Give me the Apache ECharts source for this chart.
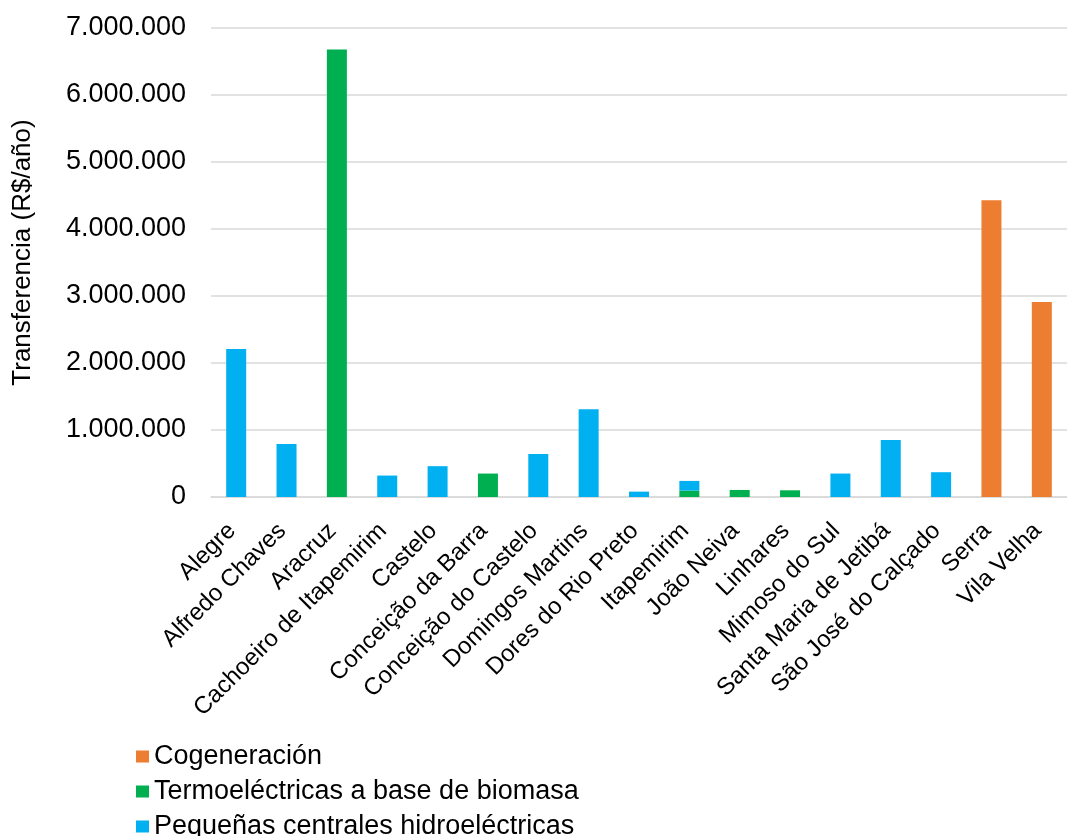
<!DOCTYPE html>
<html>
<head>
<meta charset="utf-8">
<script src="https://cdn.jsdelivr.net/npm/echarts@6/dist/echarts.min.js"></script>
<style>
  html, body { margin: 0; padding: 0; background: #fff; }
  #chart { width: 1067px; height: 836px; }
</style>
</head>
<body>
<div id="chart"></div>
<script>
// municipios
const municipios = [
  'Alegre', 'Alfredo Chaves', 'Aracruz', 'Cachoeiro de Itapemirim', 'Castelo',
  'Conceição da Barra', 'Conceição do Castelo', 'Domingos Martins', 'Dores do Rio Preto',
  'Itapemirim', 'João Neiva', 'Linhares', 'Mimoso do Sul', 'Santa Maria de Jetibá',
  'São José do Calçado', 'Serra', 'Vila Velha'
];

// valores por tipo de usina (R$/año)
const termoBiomasa = [0, 0, 6680000, 0, 0, 350000, 0, 0, 0, 95000, 105000, 100000, 0, 0, 0, 0, 0];
const pch = [2210000, 790000, 0, 320000, 460000, 0, 640000, 1310000, 80000, 145000, 0, 0, 350000, 850000, 370000, 0, 0];
const cogeneracion = [0, 0, 0, 0, 0, 0, 0, 0, 0, 0, 0, 0, 0, 0, 0, 4430000, 2910000];

const yTicks = { min: 0, max: 7000000, interval: 1000000 };

const fonte = 'Liberation Sans, Arial, sans-serif';

const chart = echarts.init(document.getElementById('chart'));

const formatarMilhar = (v) => String(v).replace(/\B(?=(\d{3})+(?!\d))/g, '.');

chart.setOption({
  backgroundColor: '#ffffff',
  animation: false,
  textStyle: { fontFamily: fonte },
  grid: { left: 211, top: 28, width: 861, height: 469, containLabel: false },
  legend: {
    orient: 'vertical',
    left: 136,
    top: 743,
    height: 120,
    padding: 0,
    itemWidth: 13,
    itemHeight: 12,
    itemGap: 8,
    icon: 'rect',
    data: ['Cogeneración', 'Termoeléctricas a base de biomasa', 'Pequeñas centrales hidroeléctricas'],
    textStyle: { fontSize: 27, color: '#000', fontFamily: fonte }
  },
  xAxis: {
    type: 'category',
    data: municipios,
    axisTick: { show: false },
    axisLine: { show: true, lineStyle: { color: '#d9d9d9', width: 1.5 } },
    axisLabel: {
      rotate: 45,
      interval: 0,
      margin: 26,
      padding: [0, 6, 0, 0],
      fontSize: 24,
      color: '#000',
      fontFamily: fonte
    }
  },
  yAxis: {
    type: 'value',
    min: yTicks.min,
    max: yTicks.max,
    interval: yTicks.interval,
    name: 'Transferencia (R$/año)',
    nameLocation: 'middle',
    nameRotate: 90,
    nameGap: 175,
    nameTextStyle: { fontSize: 26, color: '#000', fontFamily: fonte, padding: [0, 0, 0, 20] },
    axisLine: { show: false },
    axisTick: { show: false },
    axisLabel: {
      margin: 25,
      fontSize: 27,
      color: '#000',
      fontFamily: fonte,
      formatter: formatarMilhar
    },
    splitLine: { lineStyle: { color: '#d9d9d9', width: 1.5 } }
  },
  series: [
    {
      name: 'Termoeléctricas a base de biomasa',
      type: 'bar',
      stack: 'total',
      barWidth: 20,
      data: termoBiomasa,
      itemStyle: { color: '#00b050' }
    },
    {
      name: 'Pequeñas centrales hidroeléctricas',
      type: 'bar',
      stack: 'total',
      barWidth: 20,
      data: pch,
      itemStyle: { color: '#00b0f0' }
    },
    {
      name: 'Cogeneración',
      type: 'bar',
      stack: 'total',
      barWidth: 20,
      data: cogeneracion,
      itemStyle: { color: '#ed7d31' }
    }
  ]
});
</script>
</body>
</html>
